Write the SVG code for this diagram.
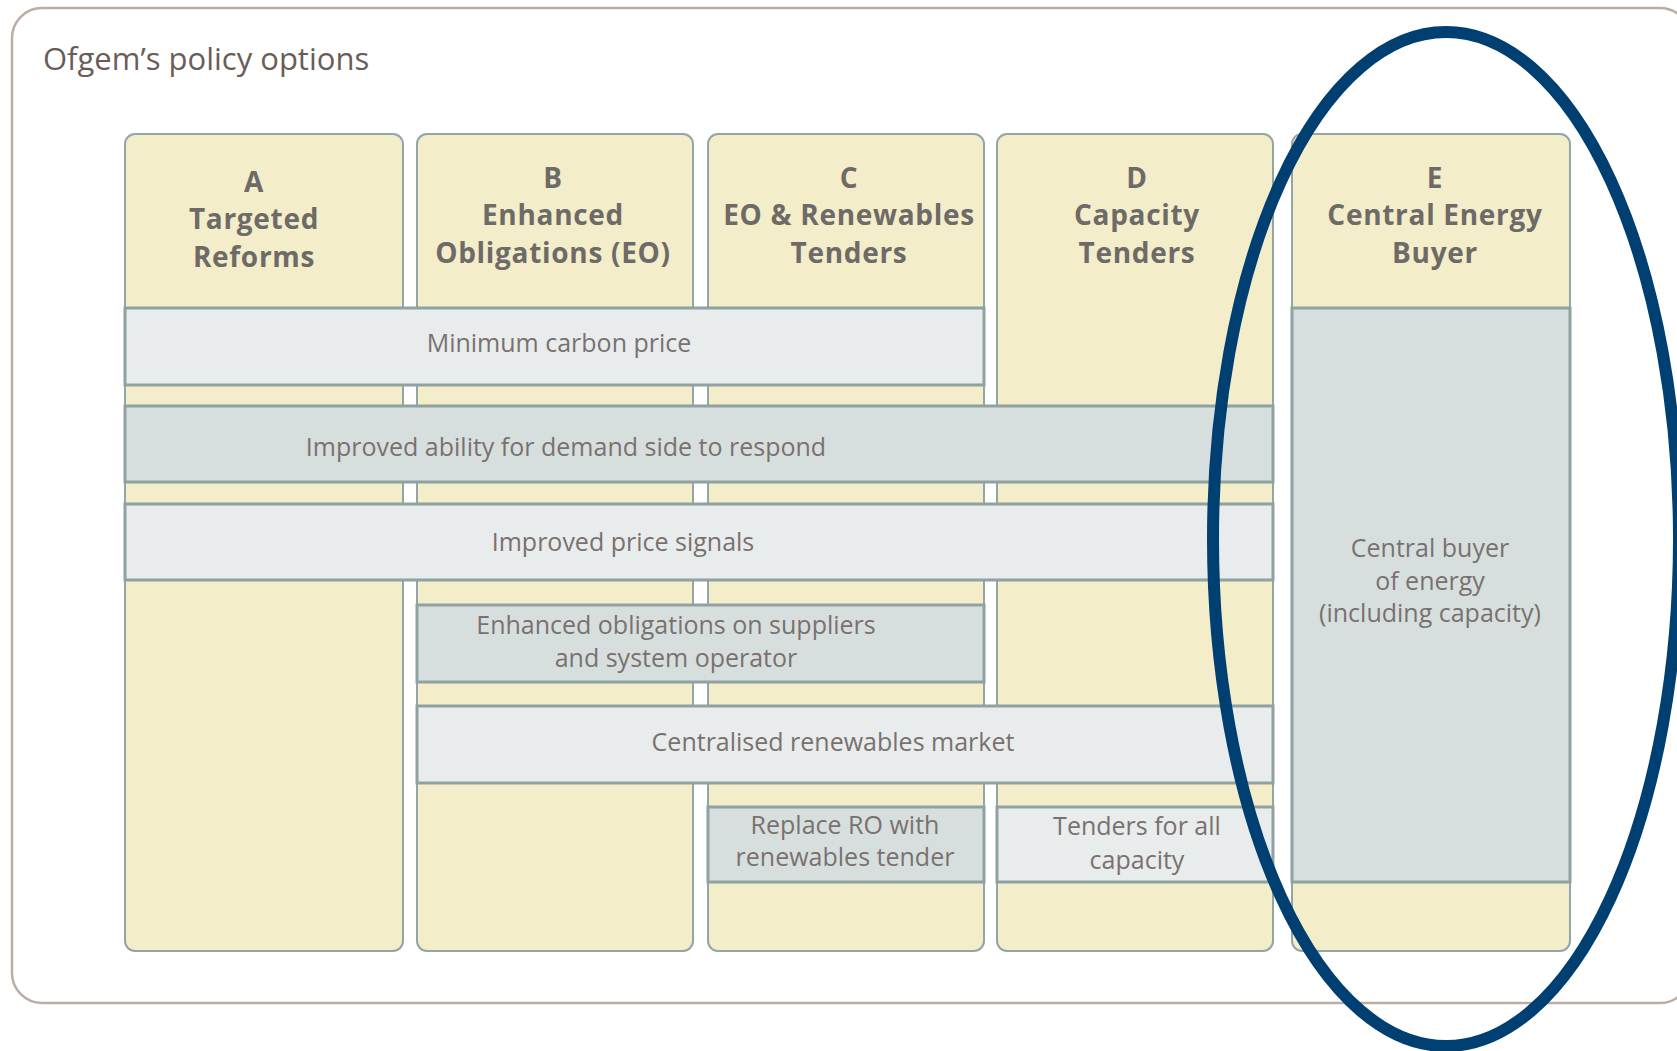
<svg xmlns="http://www.w3.org/2000/svg" width="1677" height="1051" viewBox="0 0 1677 1051">
<style>
.frame{fill:#ffffff;stroke:#bcaca4;stroke-width:2.5}
.title{font-family:"Open Sans","Liberation Sans",sans-serif;font-size:31px;fill:#6a5c57}
.col{fill:#f3eec9;stroke:#93a5a4;stroke-width:2}
.hdr{font-family:"Open Sans","Liberation Sans",sans-serif;font-size:28px;font-weight:bold;letter-spacing:0.7px;fill:#6e6a68;text-anchor:middle}
.bar-l{fill:#e8ecec;stroke:#8ea2a2;stroke-width:3}
.bar-d{fill:#d6dfde;stroke:#8ea2a2;stroke-width:3}
.lbl{font-family:"Open Sans","Liberation Sans",sans-serif;font-size:25px;fill:#7a716f;text-anchor:middle}
.ring{fill:none;stroke:#003f72;stroke-width:12}
</style>
<rect class="frame" x="12" y="8" width="1678" height="995" rx="30"/>
<text class="title" x="43" y="70">Ofgem’s policy options</text>

<g id="col-A">
<rect class="col" x="125" y="134" width="278" height="817" rx="10"/>
<text class="hdr" x="254" y="192">A</text>
<text class="hdr" x="254" y="229">Targeted</text>
<text class="hdr" x="254" y="267">Reforms</text>
</g>
<g id="col-B">
<rect class="col" x="417" y="134" width="276" height="817" rx="10"/>
<text class="hdr" x="553" y="188">B</text>
<text class="hdr" x="553" y="225">Enhanced</text>
<text class="hdr" x="553" y="263">Obligations (EO)</text>
</g>
<g id="col-C">
<rect class="col" x="708" y="134" width="276" height="817" rx="10"/>
<text class="hdr" x="849" y="188">C</text>
<text class="hdr" x="849" y="225">EO &amp; Renewables</text>
<text class="hdr" x="849" y="263">Tenders</text>
</g>
<g id="col-D">
<rect class="col" x="997" y="134" width="276" height="817" rx="10"/>
<text class="hdr" x="1137" y="188">D</text>
<text class="hdr" x="1137" y="225">Capacity</text>
<text class="hdr" x="1137" y="263">Tenders</text>
</g>
<g id="col-E">
<rect class="col" x="1292" y="134" width="278" height="817" rx="10"/>
<text class="hdr" x="1435" y="188">E</text>
<text class="hdr" x="1435" y="225">Central Energy</text>
<text class="hdr" x="1435" y="263">Buyer</text>
</g>

<g id="bar-min-carbon">
<rect class="bar-l" x="125" y="308" width="859" height="77"/>
<text class="lbl" x="559" y="352">Minimum carbon price</text>
</g>
<g id="bar-demand">
<rect class="bar-d" x="125" y="406" width="1148" height="76"/>
<text class="lbl" x="566" y="456">Improved ability for demand side to respond</text>
</g>
<g id="bar-price">
<rect class="bar-l" x="125" y="504" width="1148" height="76"/>
<text class="lbl" x="623" y="551">Improved price signals</text>
</g>
<g id="bar-enhanced">
<rect class="bar-d" x="417" y="605" width="567" height="77"/>
<text class="lbl" x="676" y="634">Enhanced obligations on suppliers</text>
<text class="lbl" x="676" y="667">and system operator</text>
</g>
<g id="bar-centralised">
<rect class="bar-l" x="417" y="706" width="856" height="77"/>
<text class="lbl" x="833" y="751">Centralised renewables market</text>
</g>
<g id="bar-replace-ro">
<rect class="bar-d" x="708" y="807" width="276" height="75"/>
<text class="lbl" x="845" y="834">Replace RO with</text>
<text class="lbl" x="845" y="866">renewables tender</text>
</g>
<g id="bar-tenders-all">
<rect class="bar-l" x="997" y="807" width="276" height="75"/>
<text class="lbl" x="1137" y="835">Tenders for all</text>
<text class="lbl" x="1137" y="869">capacity</text>
</g>
<g id="box-central-buyer">
<rect class="bar-d" x="1292" y="308" width="278" height="574"/>
<text class="lbl" x="1430" y="557">Central buyer</text>
<text class="lbl" x="1430" y="590">of energy</text>
<text class="lbl" x="1430" y="622">(including capacity)</text>
</g>

<ellipse id="highlight" class="ring" cx="1446" cy="539" rx="233" ry="507"/>
</svg>
